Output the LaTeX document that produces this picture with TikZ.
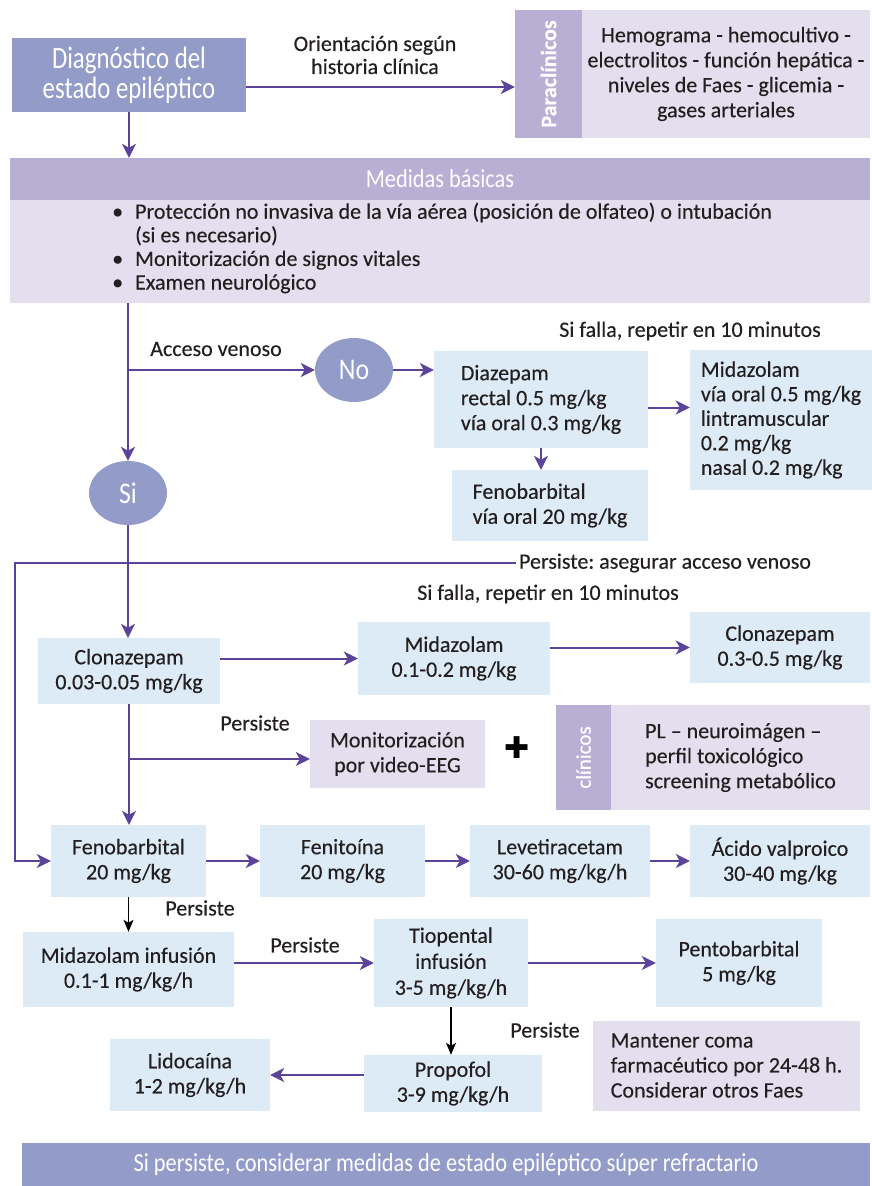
\documentclass[tikz,border=0pt]{standalone}
\usepackage{fontspec}
\setmainfont[FakeBold=0.3]{Carlito}
\newfontfamily\condfont[FakeStretch=0.86]{Carlito}
\newfontfamily\narrowfont[FakeStretch=0.8]{Carlito}
\newfontfamily\symfont{DejaVu Sans}
\usetikzlibrary{arrows.meta,shapes.geometric}
\frenchspacing

\definecolor{diagblue}{HTML}{939CC8}
\definecolor{headpurple}{HTML}{B9AFD4}
\definecolor{lav}{HTML}{E4DFEE}
\definecolor{drugblue}{HTML}{DDEBF6}
\definecolor{arrowpurple}{HTML}{5C4399}
\definecolor{txt}{HTML}{231F20}

\tikzset{
  drug/.style={fill=drugblue, text=txt, align=center, inner sep=0pt, font=\fontsize{22}{25}\selectfont},
  note/.style={drug, fill=lav},
  strip/.style={fill=headpurple, inner sep=0pt},
  striptext/.style={rotate=90, text=white, font=\fontsize{22}{24}\selectfont\bfseries},
  answer/.style={ellipse, fill=diagblue, text=white, minimum width=78pt, minimum height=64pt, font=\condfont\fontsize{30}{30}\selectfont},
  lbl/.style={text=txt, align=center, inner sep=3pt, font=\fontsize{22}{23}\selectfont},
  arr/.style={draw=arrowpurple, line width=2pt, -{Stealth[length=14pt,width=14pt,inset=4pt]}},
  blk/.style={draw=black, line width=1.3pt, -{Stealth[length=12pt,width=10pt,inset=3pt]}}
}

\begin{document}
\begin{tikzpicture}[x=1pt, y=-1pt]
  \useasboundingbox (0,0) rectangle (872,1186);

  % Top
  \node[fill=diagblue, text=white, align=center, minimum width=234pt, minimum height=74pt,
        font=\narrowfont\fontsize{31}{30}\selectfont] (diag) at (129,75) {Diagnóstico del\\estado epiléptico};
  \node[strip, minimum width=67pt, minimum height=128pt] (paraS) at (548.5,74) {};
  \node[striptext] (paraT) at (paraS) {Paraclínicos};
  \node[note, minimum width=288pt, minimum height=128pt] (paraB) at (726,74)
    {Hemograma - hemocultivo -\\electrolitos - función hepática -\\niveles de Faes - glicemia -\\gases arteriales};
  \node[lbl] (orient) at (375,55) {Orientación según\\historia clínica};

  \node[strip, text=white, minimum width=860pt, minimum height=42pt,
        font=\condfont\fontsize{26}{26}\selectfont] (medH) at (440,179) {Medidas básicas};
  \node[fill=lav, minimum width=860pt, minimum height=103pt, inner sep=0pt] (medB) at (440,251.5) {};
  \node[lbl, anchor=north west, align=left, inner sep=0pt, font=\fontsize{22}{23.6}\selectfont] (medT) at (112,202)
    {\begin{tabular}{@{}c@{\hspace{12pt}}l@{}}
      \textbullet & Protección no invasiva de la vía aérea (posición de olfateo) o intubación\\
                  & (si es necesario)\\
      \textbullet & Monitorización de signos vitales\\
      \textbullet & Examen neurológico
     \end{tabular}};

  % Sin acceso venoso
  \node[answer] (no) at (354,370) {No};
  \node[answer] (si) at (128,493) {Si};
  \node[lbl] (acceso) at (216,349) {Acceso venoso};
  \node[lbl] (falla1) at (690,331) {Si falla, repetir en 10 minutos};
  \node[drug, align=left, minimum width=214pt, minimum height=97pt] (diaz) at (541,399.5)
    {Diazepam\\rectal 0.5 mg/kg\\vía oral 0.3 mg/kg};
  \node[drug, align=left, minimum width=182pt, minimum height=140pt, font=\fontsize{22}{24.5}\selectfont] (midzA) at (781,420)
    {Midazolam\\vía oral 0.5 mg/kg\\lintramuscular\\0.2 mg/kg\\nasal 0.2 mg/kg};
  \node[drug, align=left, minimum width=196pt, minimum height=71pt] (fenoO) at (550,505.5)
    {Fenobarbital\\vía oral 20 mg/kg};

  % Con acceso venoso
  \node[lbl] (persV) at (665,563) {Persiste: asegurar acceso venoso};
  \node[lbl] (falla2) at (548,594) {Si falla, repetir en 10 minutos};
  \node[drug, minimum width=182pt, minimum height=66pt] (clonA) at (129,671) {Clonazepam\\0.03-0.05 mg/kg};
  \node[drug, minimum width=192pt, minimum height=73pt] (midzB) at (454,658.5) {Midazolam\\0.1-0.2 mg/kg};
  \node[drug, minimum width=180pt, minimum height=71pt] (clonB) at (780,647.5) {Clonazepam\\0.3-0.5 mg/kg};

  \node[lbl] (pers1) at (255,723) {Persiste};
  \node[note, minimum width=175pt, minimum height=68pt] (monit) at (397.5,754) {Monitorización\\por video-EEG};
  \node[inner sep=0pt, font=\symfont\fontsize{30}{30}\selectfont] (plus) at (517,748) {✚};
  \node[strip, minimum width=55pt, minimum height=105pt] (clinS) at (583.5,757.5) {};
  \node[striptext, font=\fontsize{21}{22}\selectfont] (clinT) at (clinS) {clínicos};
  \node[note, align=left, minimum width=259pt, minimum height=105pt] (clinB) at (740.5,757.5)
    {PL – neuroimágen –\\perfil toxicológico\\screening metabólico};

  \node[drug, minimum width=155pt, minimum height=72pt] (feno) at (128.5,861) {Fenobarbital\\20 mg/kg};
  \node[drug, minimum width=165pt, minimum height=72pt] (fenit) at (342.5,861) {Fenitoína\\20 mg/kg};
  \node[drug, minimum width=180pt, minimum height=72pt] (levet) at (560,861) {Levetiracetam\\30-60 mg/kg/h};
  \node[drug, minimum width=180pt, minimum height=72pt] (valpro) at (780,861) {Ácido valproico\\30-40 mg/kg};

  \node[lbl] (pers2) at (200,908) {Persiste};
  \node[drug, minimum width=211pt, minimum height=75pt] (midzI) at (128.5,969.5) {Midazolam infusión\\0.1-1 mg/kg/h};
  \node[lbl] (pers3) at (305,945) {Persiste};
  \node[drug, minimum width=154pt, minimum height=88pt, font=\fontsize{22}{26}\selectfont] (tiop) at (451,963) {Tiopental\\infusión\\3-5 mg/kg/h};
  \node[drug, minimum width=166pt, minimum height=88pt] (pento) at (739,963) {Pentobarbital\\5 mg/kg};

  \node[lbl] (pers4) at (545,1030) {Persiste};
  \node[note, align=left, minimum width=267pt, minimum height=90pt] (mant) at (726.5,1065.5)
    {Mantener coma\\farmacéutico por 24-48 h.\\Considerar otros Faes};
  \node[drug, minimum width=178pt, minimum height=57pt] (propo) at (453,1083.5) {Propofol\\3-9 mg/kg/h};
  \node[drug, minimum width=160pt, minimum height=72pt] (lido) at (190,1075) {Lidocaína\\1-2 mg/kg/h};

  \node[fill=diagblue, text=white, minimum width=848pt, minimum height=43pt,
        font=\condfont\fontsize{26}{26}\selectfont] (final) at (446,1164.5)
    {Si persiste, considerar medidas de estado epiléptico súper refractario};

  % Connectors
  \coordinate (acc) at (128,370);
  \coordinate (persL) at (15,563);
  \coordinate (mon) at (128,759);

  \draw[arr] ([yshift=-12pt]diag.east) -- ([yshift=-12pt]diag.east -| paraS.west);
  \draw[arr] (diag.south) -- (diag.south |- medH.north);
  \draw[arr] (medB.south -| si.north) -- (si.north);
  \draw[arr] (acc) -- (no.west);
  \draw[arr] (no.east) -- (no.east -| diaz.west);
  \draw[arr] ([yshift=-8pt]diaz.east) -- ([yshift=-8pt]diaz.east -| midzA.west);
  \draw[arr] (diaz.south) -- (diaz.south |- fenoO.north);

  \draw[arr] (si.south) -- (si.south |- clonA.north);
  \draw[arr] (persV.west) -- (persL) |- (feno.west);
  \draw[arr] (clonA.east |- midzB) -- (midzB.west);
  \draw[arr] (midzB.east |- clonB) -- (clonB.west);
  \draw[arr] (clonA.south) -- (clonA.south |- feno.north);
  \draw[arr] (mon) -- (mon -| monit.west);

  \draw[arr] (feno.east) -- (fenit.west);
  \draw[arr] (fenit.east) -- (levet.west);
  \draw[arr] (levet.east) -- (valpro.west);
  \draw[blk] (feno.south) -- (midzI.north);
  \draw[arr] (midzI.east |- tiop) -- (tiop.west);
  \draw[arr] (tiop.east) -- (pento.west);
  \draw[blk] (tiop.south) -- (tiop.south |- propo.north);
  \draw[arr] (propo.west |- lido) -- (lido.east);
\end{tikzpicture}
\end{document}
